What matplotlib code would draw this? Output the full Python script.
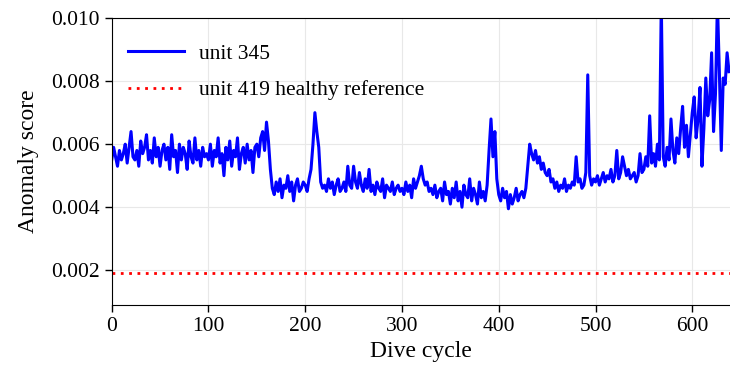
import numpy as np
import matplotlib
matplotlib.use("Agg")
import matplotlib.pyplot as plt

# anomaly score (x 1e-3), one value every 2 dive cycles
cycles = np.arange(0, 640, 2)
score_milli = [
    # 0-48
    5.5, 5.9, 5.6, 5.3, 5.8, 5.5, 5.7, 6.0, 5.4, 5.9, 6.4, 5.6, 5.5, 5.8, 5.3, 6.1, 5.7, 5.9, 6.3, 5.5, 5.8, 5.4, 6.2, 5.6, 5.9,
    # 50-98
    5.3, 5.8, 6.0, 5.5, 5.9, 5.2, 6.3, 5.6, 5.8, 5.1, 6.0, 5.5, 5.9, 5.7, 5.2, 6.1, 5.6, 5.4, 6.2, 5.5, 5.8, 5.3, 5.9, 5.6, 5.7,
    # 100-148
    5.5, 6.0, 5.3, 5.8, 5.6, 6.2, 5.4, 5.7, 5.0, 5.9, 5.5, 6.1, 5.3, 5.8, 5.6, 6.2, 5.2, 5.7, 5.9, 5.4, 6.0, 5.5, 5.8, 5.1, 5.9,
    # 150-198
    6.0, 5.6, 6.2, 6.4, 5.8, 6.7, 6.1, 5.2, 4.6, 4.4, 4.8, 4.5, 4.9, 4.3, 4.7, 4.6, 5.0, 4.5, 4.8, 4.2, 4.7, 4.9, 4.5, 4.6, 4.8,
    # 200-248
    4.7, 4.5, 4.9, 5.2, 6.0, 7.0, 6.4, 5.9, 4.8, 4.6, 4.7, 4.5, 4.9, 4.6, 4.8, 4.4, 4.7, 4.9, 4.5, 4.6, 4.8, 4.5, 5.3, 4.7, 4.6,
    # 250-298
    5.3, 4.8, 4.6, 5.1, 4.7, 4.5, 4.9, 4.6, 5.2, 4.5, 4.7, 4.4, 4.8, 4.6, 4.5, 4.9, 4.3, 4.7, 4.6, 4.5, 4.8, 4.4, 4.6, 4.7, 4.5,
    # 300-348
    4.6, 4.4, 4.8, 4.5, 4.7, 4.3, 4.9, 4.6, 4.8, 5.0, 5.3, 4.9, 4.7, 4.8, 4.5, 4.6, 4.4, 4.7, 4.3, 4.5, 4.6, 4.2, 4.8, 4.4, 4.5,
    # 350-398
    4.1, 4.6, 4.3, 4.8, 4.2, 4.5, 4.0, 4.7, 4.4, 4.3, 4.9, 4.2, 4.6, 4.4, 4.1, 4.8, 4.3, 4.5, 4.2, 4.7, 5.8, 6.8, 5.6, 6.4, 4.9,
    # 400-448
    4.4, 4.2, 4.6, 4.3, 4.5, 3.95, 4.4, 4.1, 4.3, 4.6, 4.2, 4.4, 4.5, 4.3, 4.6, 5.3, 6.0, 5.7, 5.5, 5.8, 5.4, 5.6, 5.2, 5.4, 5.1,
    # 450-498
    5.0, 5.2, 4.8, 4.9, 4.6, 4.8, 4.5, 4.7, 4.6, 4.9, 4.5, 4.7, 4.6, 4.8, 4.7, 5.6, 4.8, 4.9, 4.6, 4.7, 5.1, 8.2, 5.0, 4.7, 4.9,
    # 500-548
    4.8, 5.0, 4.7, 4.9, 5.1, 4.8, 5.0, 4.9, 5.2, 4.8, 5.0, 5.8, 4.9, 5.1, 5.6, 5.3, 5.0, 5.2, 4.9, 5.0, 5.1, 4.8, 5.0, 5.7, 5.1,
    # 550-598
    5.2, 5.6, 5.3, 6.9, 5.4, 5.7, 5.3, 6.0, 5.5, 10.5, 5.6, 5.3, 5.9, 5.5, 6.8, 5.8, 5.4, 6.2, 5.7, 6.5, 7.2, 5.9, 6.6, 5.6, 6.3,
    # 600-638
    7.0, 7.5, 6.2, 6.8, 7.8, 5.3, 6.5, 8.1, 6.9, 7.4, 8.9, 6.4, 7.6, 10.5, 8.3, 5.8, 8.1, 7.9, 8.9, 8.3,
]
healthy_ref = 0.00191

score = np.array(score_milli) * 1e-3

plt.rcParams["font.family"] = ["Liberation Serif", "DejaVu Serif"]
plt.rcParams["font.size"] = 15

fig = plt.figure(figsize=(7.3, 3.7), dpi=100)
ax = fig.add_axes([0.153, 0.176, 0.847, 0.775])

ax.plot(cycles, score, color="#0000ff", lw=2.2, label="unit 345")
ax.axhline(healthy_ref, color="red", ls=(0, (1, 2)), lw=2, label="unit 419 healthy reference")

ax.set_xlim(0, 639)
ax.set_ylim(0.0009, 0.010)
ax.set_xticks(range(0, 601, 100))
ax.set_yticks([0.002, 0.004, 0.006, 0.008, 0.010])
ax.set_yticklabels(["0.002", "0.004", "0.006", "0.008", "0.010"])
ax.grid(True, color="#e8e8e8", lw=0.8)
ax.set_axisbelow(True)
ax.spines["right"].set_visible(False)
ax.tick_params(direction="out", length=5, width=1, labelsize=15.5)

ax.set_xlabel("Dive cycle", fontsize=17)
ax.set_ylabel("Anomaly score", fontsize=17, labelpad=9)

ax.legend(loc="upper left", bbox_to_anchor=(-0.016, 1.0), frameon=False,
          handlelength=2.6, handletextpad=0.7, labelspacing=0.75,
          borderaxespad=0.8, fontsize=15.5)

fig.savefig("out.png", dpi=100)
